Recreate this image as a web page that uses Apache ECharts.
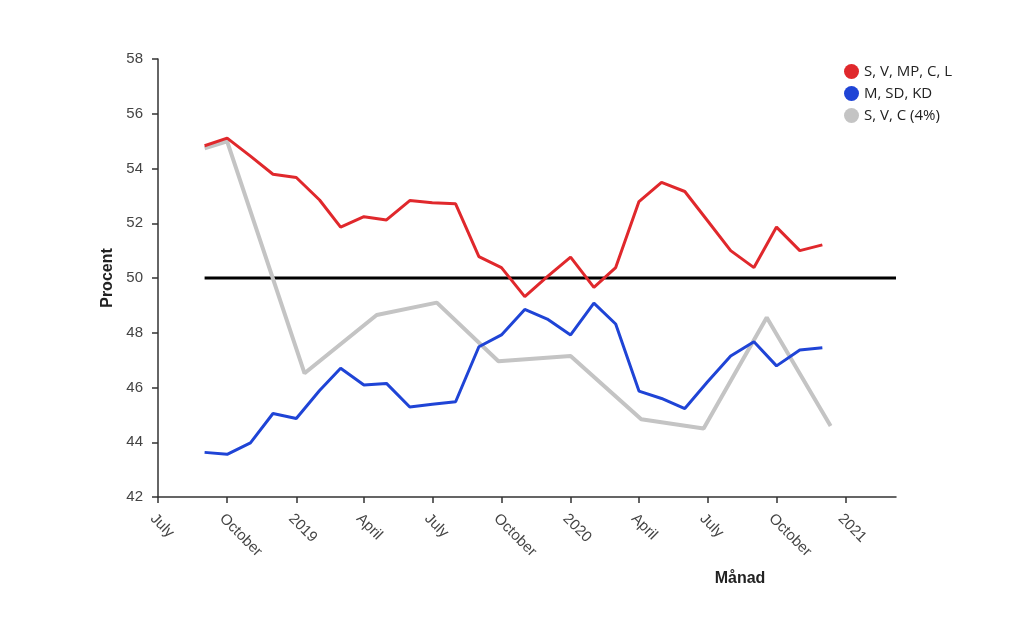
<!DOCTYPE html>
<html>
<head>
<meta charset="utf-8">
<script src="https://cdn.jsdelivr.net/npm/echarts@6/dist/echarts.min.js"></script>
<style>
html, body { margin: 0; padding: 0; background: #fff; }
#main { width: 1024px; height: 628px; }
</style>
</head>
<body>
<div id="main"></div>
<script>
// månader för de två blocken
var months = [ '2018-09-01', '2018-10-01', '2018-11-01', '2018-12-01',
		'2019-01-01', '2019-02-01', '2019-03-01', '2019-04-01', '2019-05-01',
		'2019-06-01', '2019-07-01', '2019-08-01', '2019-09-01', '2019-10-01',
		'2019-11-01', '2019-12-01', '2020-01-01', '2020-02-01', '2020-03-01',
		'2020-04-01', '2020-05-01', '2020-06-01', '2020-07-01', '2020-08-01',
		'2020-09-01', '2020-10-01', '2020-11-01', '2020-12-01' ];
var redData = [ 54.83, 55.11, 54.45, 53.79, 53.67, 52.85, 51.86, 52.24, 52.12,
		52.83, 52.75, 52.71, 50.78, 50.38, 49.32, 50.05, 50.76, 49.66, 50.38,
		52.79, 53.49, 53.16, 52.1, 51.0, 50.38, 51.86, 51.0, 51.21 ];
var blueData = [ 43.63, 43.56, 43.98, 45.05, 44.87, 45.89, 46.70, 46.09, 46.15,
		45.29, 45.39, 45.48, 47.49, 47.92, 48.85, 48.50, 47.92, 49.08, 48.32,
		45.87, 45.60, 45.23, 46.2, 47.15, 47.67, 46.79, 47.37, 47.45 ];
// S, V, C (4%) - färre mätpunkter
var grayDates = [ '2018-09-01', '2018-10-01', '2019-01-12', '2019-04-18',
		'2019-07-07', '2019-09-27', '2020-01-01', '2020-04-04', '2020-06-26',
		'2020-09-18', '2020-12-12' ];
var grayData = [ 54.74, 54.99, 46.52, 48.65, 49.10, 46.96, 47.15, 44.84, 44.50,
		48.56, 44.59 ];
var seriesNames = [ 'S, V, MP, C, L', 'M, SD, KD', 'S, V, C (4%)' ];
var axisMin = '2018-07-01';
var axisMax = '2021-03-09';
var majority = 50;

function pairs(xs, ys) {
	var out = [];
	for (var i = 0; i < xs.length; i++) {
		out.push([ xs[i], ys[i] ]);
	}
	return out;
}

var DAY = 24 * 3600 * 1000;
var myChart = echarts.init(document.getElementById('main'));
var option = {
	animation : false,
	color : [ '#e0282c', '#1f44d6', '#c4c4c4' ],
	legend : {
		data : seriesNames,
		orient : 'vertical',
		left : 839,
		top : 59,
		itemGap : 7,
		itemWidth : 15,
		itemHeight : 15,
		icon : 'circle',
		textStyle : {
			fontFamily : 'Open Sans',
			fontSize : 15,
			color : '#222'
		}
	},
	grid : {
		left : 158,
		right : 128,
		top : 59,
		bottom : 131
	},
	xAxis : {
		type : 'time',
		min : axisMin,
		max : axisMax,
		minInterval : DAY * 90,
		maxInterval : DAY * 93,
		name : 'Månad',
		nameLocation : 'middle',
		nameGap : 74,
		nameTextStyle : {
			fontFamily : 'Liberation Sans',
			fontWeight : 'bold',
			fontSize : 16,
			color : '#222',
			padding : [ 0, 0, 0, 426 ]
		},
		axisLine : {
			lineStyle : {
				color : '#333',
				width : 1.5
			}
		},
		axisTick : {
			show : true,
			length : 6,
			lineStyle : {
				color : '#333',
				width : 1.5
			}
		},
		splitLine : {
			show : false
		},
		axisLabel : {
			rotate : -45,
			margin : 14,
			verticalAlign : 'top',
			fontFamily : 'Liberation Sans',
			fontSize : 15,
			color : '#444',
			hideOverlap : false,
			formatter : {
				year : '{yyyy}',
				month : '{MMMM}'
			}
		}
	},
	yAxis : {
		type : 'value',
		min : 42,
		max : 58,
		interval : 2,
		name : 'Procent',
		nameLocation : 'middle',
		nameGap : 40,
		nameTextStyle : {
			fontFamily : 'Liberation Sans',
			fontWeight : 'bold',
			fontSize : 16,
			color : '#222'
		},
		axisLine : {
			show : true,
			lineStyle : {
				color : '#333',
				width : 1.5
			}
		},
		axisTick : {
			show : true,
			length : 6,
			lineStyle : {
				color : '#333',
				width : 1.5
			}
		},
		splitLine : {
			show : false
		},
		axisLabel : {
			margin : 15,
			fontFamily : 'Liberation Sans',
			fontSize : 15,
			color : '#444'
		}
	},
	series : [ {
		name : seriesNames[0],
		type : 'line',
		data : pairs(months, redData),
		showSymbol : false,
		lineStyle : {
			width : 3
		},
		z : 3
	}, {
		name : seriesNames[1],
		type : 'line',
		data : pairs(months, blueData),
		showSymbol : false,
		lineStyle : {
			width : 3
		},
		z : 3
	}, {
		name : seriesNames[2],
		type : 'line',
		data : pairs(grayDates, grayData),
		showSymbol : false,
		lineStyle : {
			width : 4
		},
		z : 2
	}, {
		name : '50%',
		type : 'line',
		data : [ [ months[0], majority ], [ axisMax, majority ] ],
		showSymbol : false,
		color : '#000',
		lineStyle : {
			color : '#000',
			width : 3
		},
		z : 1
	} ]
};
myChart.setOption(option);
</script>
</body>
</html>
